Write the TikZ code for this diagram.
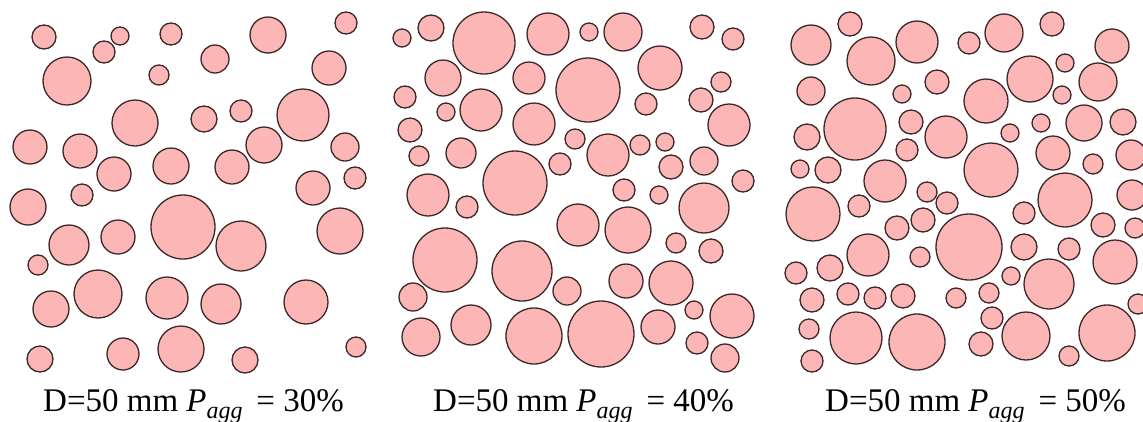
\documentclass[tikz,border=0pt]{standalone}
\usepackage{fontspec}
\setmainfont{Liberation Serif}
\newcommand\agglabel[1]{D=50 mm \textit{P}\raisebox{-7pt}{\fontsize{24}{26}\selectfont\textit{agg}}\hspace{0.42em}=\hspace{0.25em}#1\%}
\begin{document}
\begin{tikzpicture}[x=1pt,y=-1pt,
  agg/.style={fill={rgb,255:red,252;green,182;blue,182},draw={rgb,255:red,60;green,40;blue,40},line width=1.3pt},
  lbl/.style={anchor=base west,inner sep=0pt,font=\fontsize{33}{36}\selectfont}]
\useasboundingbox (0,0) rectangle (1143,421);
\clip (0,0) rectangle (1143,421);
% Panel 1
\foreach \x/\y/\r in {44/37/12,120/36/9,104/52/11,171/34/11,268/35/18,346/23/11,215/59/14,67/81/24,159/75/10,329/68/17,
135/123/23,204/119/13,241/111/11,303/115/26,30/147/17,80/151/17,264/145/18,345/147/14,114/174/17,171/166/18,232/167/17,313/188/17,355/178/11,
28/207/18,82/195/11,183/227/32,241/246/25,340/231/23,69/245/20,118/237/17,38/265/10,98/294/24,167/298/21,221/304/20,306/302/22,51/309/18,
40/359/13,123/354/16,181/349/23,245/360/13,356/347/10}
  \draw[agg] (\x,\y) circle[radius=\r pt];
% Panel 2
\foreach \x/\y/\r in {402/38/9,431/28/13,484/43/31,548/34/21,589/32/9,623/32/19,702/27/12,733/39/11,443/78/18,529/78/16,588/90/32,660/68/22,
405/97/11,446/112/9,481/110/21,721/82/10,701/100/12,646/104/11,534/124/21,729/125/21,410/130/12,575/139/10,608/155/21,640/145/10,665/142/9,
419/156/10,461/153/15,560/164/11,671/167/12,704/161/14,515/183/32,428/195/21,743/181/11,624/190/11,659/195/9,704/208/25,
467/207/11,578/225/21,628/230/23,676/243/10,711/251/12,445/260/32,522/271/30,567/291/14,626/281/17,671/283/22,413/297/14,694/310/9,732/316/22,
471/325/20,421/337/19,534/336/28,601/334/33,658/327/17,697/343/11,725/358/14}
  \draw[agg] (\x,\y) circle[radius=\r pt];
% Panel 3
\foreach \x/\y/\r in {850/24/12,811/45/20,871/61/24,917/42/21,969/43/11,1004/33/19,1052/24/12,1112/46/17,811/91/14,937/82/12,902/94/9,
1030/79/23,1065/63/9,1098/82/19,986/101/22,1062/95/9,855/129/31,807/137/13,911/122/12,946/137/21,1010/133/9,1041/123/9,1084/123/18,1123/122/13,
907/150/11,1053/153/17,1131/155/15,800/169/9,828/170/13,1093/164/10,991/170/27,885/181/21,1065/200/27,927/192/10,813/214/27,1132/195/15,
859/206/11,947/203/11,1024/213/11,969/247/33,897/228/12,923/220/12,868/255/21,920/257/10,1024/247/13,1069/249/11,1103/225/12,1135/228/10,
1115/262/22,830/268/13,796/273/11,1011/276/9,1049/284/25,812/300/12,848/294/11,875/298/11,903/296/12,956/298/10,989/293/10,1138/304/10,
992/318/11,809/329/10,856/338/26,917/342/28,981/344/12,1026/336/24,1107/333/28,1069/356/10,812/361/11}
  \draw[agg] (\x,\y) circle[radius=\r pt];
% Labels
\node[lbl] (l1) at (43,411) {\agglabel{30}};
\node[lbl] (l2) at (433,411) {\agglabel{40}};
\node[lbl] (l3) at (825,411) {\agglabel{50}};
\end{tikzpicture}
\end{document}
